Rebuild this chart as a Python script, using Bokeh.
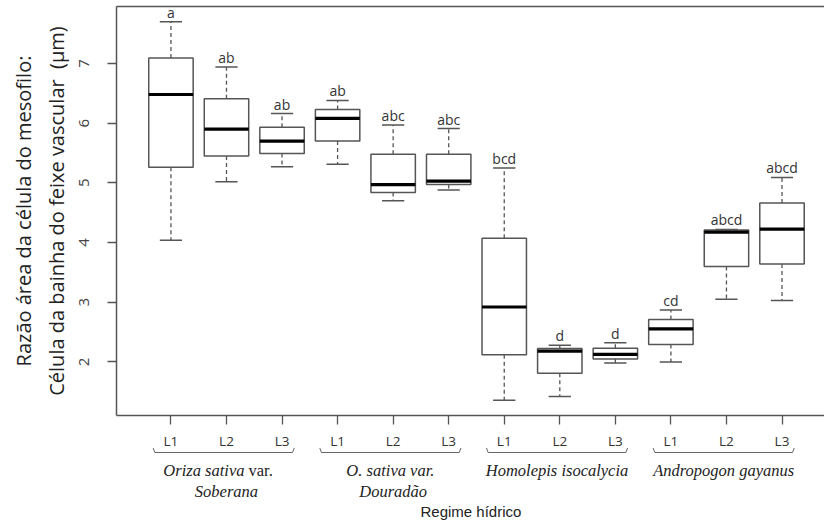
from bokeh.plotting import figure
from bokeh.models import Range1d, FixedTicker, LinearAxis
from bokeh.layouts import column
from bokeh.core.properties import value
from bokeh.embed import file_html
from bokeh.resources import INLINE

# ---- data ----
species = ["Oriza sativa var. Soberana", "O. sativa var. Douradão",
           "Homolepis isocalycia", "Andropogon gayanus"]
levels = ["L1", "L2", "L3"]
low  = [4.04, 5.02, 5.27, 5.31, 4.70, 4.88, 1.356, 1.42, 1.98, 2.00, 3.05, 3.03]
q1   = [5.26, 5.45, 5.49, 5.70, 4.84, 4.97, 2.12, 1.81, 2.05, 2.29, 3.60, 3.64]
med  = [6.48, 5.90, 5.70, 6.08, 4.97, 5.03, 2.92, 2.18, 2.125, 2.555, 4.175, 4.225]
q3   = [7.09, 6.41, 5.93, 6.23, 5.48, 5.48, 4.07, 2.225, 2.23, 2.71, 4.21, 4.66]
high = [7.70, 6.94, 6.16, 6.38, 5.97, 5.91, 5.25, 2.28, 2.32, 2.87, 4.22, 5.09]
letters = ["a", "ab", "ab", "ab", "abc", "abc", "bcd", "d", "d", "cd", "abcd", "abcd"]
y_ticks = [2, 3, 4, 5, 6, 7]
group_line1 = ["Oriza sativa", "O. sativa var.", "Homolepis isocalycia", "Andropogon gayanus"]
group_line2 = ["Soberana", "Douradão", "", ""]

n = len(med)
pos = list(range(1, n + 1))
tick_labels = levels * len(species)

# ---- scales ----
xr = Range1d(0.02, 12.765)
span = max(high) - min(low)
yr = Range1d(min(low) - 0.04 * span, max(high) + 0.04 * span)

GRAY = "#555555"
SANS = value("Open Sans")
W = 824

p = figure(width=W, height=425, x_range=xr, y_range=yr,
           output_backend="svg", toolbar_location=None,
           min_border_left=116, min_border_right=0,
           min_border_top=6, min_border_bottom=10)
p.outline_line_color = None
p.grid.visible = False

hw = 0.4
cw = 0.2
x_left = [x - hw for x in pos]
x_right = [x + hw for x in pos]
c_left = [x - cw for x in pos]
c_right = [x + cw for x in pos]

# whiskers
p.segment(x0=pos, x1=pos, y0=q3, y1=high, line_color=GRAY, line_width=1.3, line_dash="4 3")
p.segment(x0=pos, x1=pos, y0=q1, y1=low, line_color=GRAY, line_width=1.3, line_dash="4 3")
# caps
p.segment(x0=c_left, x1=c_right, y0=high, y1=high, line_color=GRAY, line_width=1.5)
p.segment(x0=c_left, x1=c_right, y0=low, y1=low, line_color=GRAY, line_width=1.5)
# boxes
p.quad(left=x_left, right=x_right, bottom=q1, top=q3, fill_color="white",
       line_color=GRAY, line_width=1.5)
# medians
p.segment(x0=x_left, x1=x_right, y0=med, y1=med, line_color="black", line_width=3.2)
# letters
p.text(x=pos, y=high, text=letters, text_align="center", text_baseline="bottom",
       y_offset=0, text_font=SANS, text_font_size="14px", text_color="#333333")

# y axis
ya = p.yaxis[0]
ya.ticker = FixedTicker(ticks=y_ticks)
ya.major_tick_out = 9
ya.major_tick_in = 0
ya.minor_tick_line_color = None
ya.major_tick_line_color = GRAY
ya.major_tick_line_width = 1.3
ya.axis_line_color = GRAY
ya.axis_line_width = 1.5
ya.major_label_orientation = "vertical"
ya.major_label_text_font = "Open Sans"
ya.major_label_text_font_size = "15px"
ya.major_label_text_color = "#444444"
ya.major_label_standoff = 18
ya.axis_label = "Razão área da célula do mesofilo:\nCélula da bainha do feixe vascular\u00a0 (µm)"
ya.axis_label_text_font = "Open Sans"
ya.axis_label_text_font_size = "20px"
ya.axis_label_text_font_style = "normal"
ya.axis_label_text_color = "#222222"
ya.axis_label_standoff = 7

# bottom axis: ticks only
xa = p.xaxis[0]
xa.ticker = FixedTicker(ticks=pos)
xa.major_label_overrides = {i: "" for i in pos}
xa.major_label_text_font_size = "0px"
xa.major_label_standoff = 0
xa.major_tick_out = 9
xa.major_tick_in = 0
xa.minor_tick_line_color = None
xa.major_tick_line_color = GRAY
xa.major_tick_line_width = 1.3
xa.axis_line_color = GRAY
xa.axis_line_width = 1.5

# top frame line
top = LinearAxis(ticker=FixedTicker(ticks=[]), major_label_text_font_size="0px",
                 major_tick_out=0, major_tick_in=0, minor_tick_out=0, minor_tick_in=0,
                 major_label_standoff=0, axis_line_color=GRAY, axis_line_width=1.5)
p.add_layout(top, "above")

# ---- lower panel: level labels, brackets, species names ----
H2 = 96
q = figure(width=W, height=H2, x_range=xr, y_range=Range1d(H2, 0),
           output_backend="svg", toolbar_location=None,
           x_axis_location=None, y_axis_location=None,
           min_border_left=116, min_border_right=0,
           min_border_top=0, min_border_bottom=0)
q.outline_line_color = None
q.grid.visible = False

q.text(x=pos, y=15.7, text=tick_labels, text_align="center", text_baseline="middle",
       text_font=SANS, text_font_size="13.5px", text_color="#333333")

g_centers = [sum(pos[3 * g:3 * g + 3]) / 3 for g in range(len(species))]
bx, by = [], []
for c in g_centers:
    a, b = c - 1.32, c + 1.22
    bx.append([a, a + 0.03, b - 0.03, b])
    by.append([22.5, 27, 27, 22.5])
q.multi_line(xs=bx, ys=by, line_color="#666666", line_width=1)

SERIF = value("Liberation Serif")
# group 1 line 1: italic binomial + upright "var."
q.text(x=[g_centers[0]], y=45, text=[group_line1[0]], x_offset=18, text_align="right",
       text_baseline="middle", text_font=SERIF, text_font_style="italic",
       text_font_size="16.5px", text_color="#222222")
q.text(x=[g_centers[0]], y=45, text=["var."], x_offset=22, text_align="left",
       text_baseline="middle", text_font=SERIF, text_font_style="normal",
       text_font_size="16.5px", text_color="#222222")
q.text(x=[c - 0.05 for c in g_centers[1:]], y=45, text=group_line1[1:], text_align="center",
       text_baseline="middle", text_font=SERIF, text_font_style="italic",
       text_font_size="16.5px", text_color="#222222")
q.text(x=g_centers[:2], y=66, text=group_line2[:2], text_align="center",
       text_baseline="middle", text_font=SERIF, text_font_style="italic",
       text_font_size="16.5px", text_color="#222222")

q.text(x=[6.4], y=85.5, text=["Regime hídrico"], text_align="center",
       text_baseline="middle", text_font=value("Liberation Sans"),
       text_font_size="15px", text_color="#222222")

layout = column(p, q, spacing=0)
open("out.html", "w").write(file_html(layout, INLINE))
